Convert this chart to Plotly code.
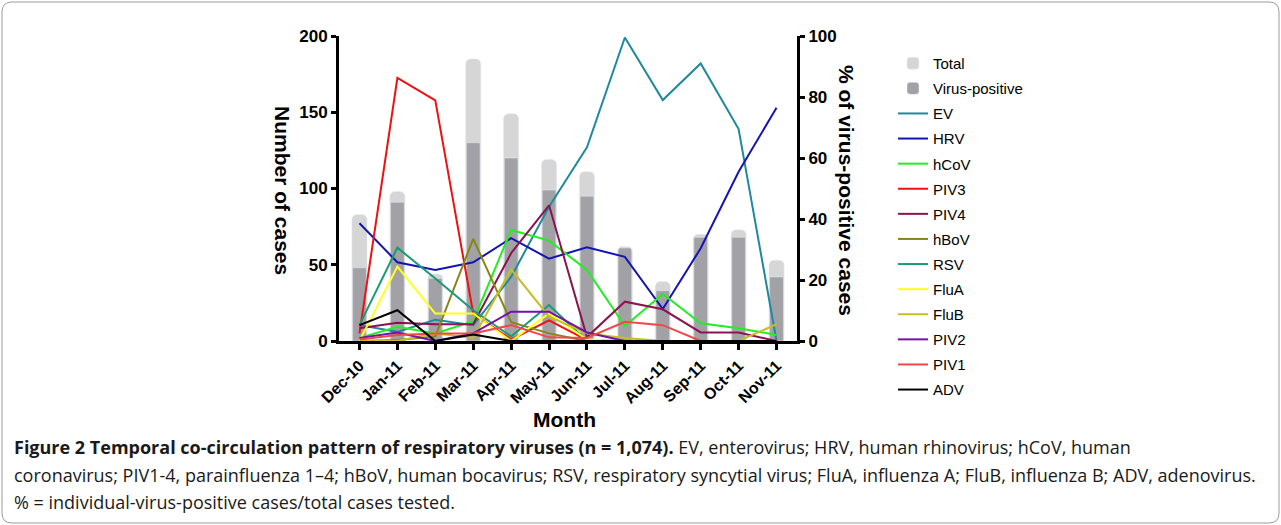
import plotly.graph_objects as go

months = ["Dec-10", "Jan-11", "Feb-11", "Mar-11", "Apr-11", "May-11",
          "Jun-11", "Jul-11", "Aug-11", "Sep-11", "Oct-11", "Nov-11"]

total = [83, 98, 44, 185, 149, 119, 111, 62, 39, 70, 73, 53]
virus_positive = [48, 91, 41, 130, 120, 99, 95, 61, 33, 68, 68, 42]

# % of virus-positive cases (right axis)
ev   = [5.2, 3.0, 7.0, 5.2, 21, 44, 63.5, 99.5, 79, 91, 69.5, 0]
hrv  = [38.6, 25.8, 23.3, 25.8, 33.7, 27, 30.7, 27.6, 10.5, 30.4, 55.5, 76.5]
hcov = [1, 4.7, 2.5, 6.5, 36.4, 32.9, 23.3, 4.9, 15.4, 5.8, 4.2, 2]
piv3 = [2.5, 86.3, 78.9, 9, 0.5, 6.8, 0.3, 0, 0, 0, 0, 0]
piv4 = [4.2, 6, 5.5, 5.5, 28.8, 44.5, 1.3, 12.9, 10.4, 2.8, 2.8, 0]
hbov = [0, 0.3, 1.5, 33.5, 6.2, 2.5, 0, 0, 0, 0, 0, 0]
rsv  = [5.2, 30.6, 20.5, 10.1, 1.5, 11.8, 0, 0, 0, 0, 0, 0]
flua = [0, 24.4, 9, 9, 0, 9, 0.5, 0, 0, 0, 0, 0]
flub = [0, 0, 2.5, 1, 23.5, 8, 2.5, 1, 0, 0, 0, 5.5]
piv2 = [1, 2.8, 0, 2.5, 9.6, 9.6, 2.8, 0, 0, 0, 0, 0]
piv1 = [0.5, 2, 2.5, 2.5, 5.2, 1.2, 1, 6.3, 5.2, 0, 0, 0]
adv  = [5.2, 10.1, 0, 2.1, 0, 0, 0, 0, 0, 0, 0, 0]

series = [
    ("EV", ev, "#1f8a9c"),
    ("HRV", hrv, "#1414b4"),
    ("hCoV", hcov, "#22ee22"),
    ("PIV3", piv3, "#ee1111"),
    ("PIV4", piv4, "#8b1450"),
    ("hBoV", hbov, "#868616"),
    ("RSV", rsv, "#189a76"),
    ("FluA", flua, "#ffff22"),
    ("FluB", flub, "#c6be22"),
    ("PIV2", piv2, "#7412aa"),
    ("PIV1", piv1, "#f04848"),
    ("ADV", adv, "#000000"),
]

W, H = 1281, 525
L, R, T, B = 339, 797, 36, 341  # plot area in pixels


def px(x):
    return (x - L) / (R - L)


def py(y):
    return (B - y) / (B - T)


fig = go.Figure()

fig.add_trace(go.Bar(x=months, y=total, name="Total", marker=dict(color="#d6d6d6", cornerradius=5),
                     width=0.4, legendgroup="a", yaxis="y"))
fig.add_trace(go.Bar(x=months, y=virus_positive, name="Virus-positive",
                     marker=dict(color="#a2a2a6", cornerradius=5),
                     width=0.36, legendgroup="b", yaxis="y"))

for i, (name, vals, col) in enumerate(series):
    fig.add_trace(go.Scatter(x=months, y=vals, name=name, mode="lines",
                             line=dict(color=col, width=2), yaxis="y2",
                             legendgroup="g%d" % i))

axis_font = dict(family="Liberation Sans, Arial", size=17, color="black", weight="bold")

fig.update_layout(
    width=W, height=H,
    margin=dict(l=L, r=W - R, t=T, b=H - B),
    plot_bgcolor="white", paper_bgcolor="white",
    barmode="overlay",
    showlegend=True,
    legend=dict(x=893 / W, y=1 - 47 / H, xref="container", yref="container",
                xanchor="left", yanchor="top",
                font=dict(family="Liberation Sans, Arial", size=15, color="black"),
                tracegroupgap=2.6, traceorder="grouped", bgcolor="rgba(0,0,0,0)",
                maxheight=460),
    xaxis=dict(type="category", range=[-0.54, 11.54], showline=True, linecolor="black",
               linewidth=3, ticks="outside", ticklen=6, tickwidth=3, tickcolor="black",
               tickangle=-45, tickfont=dict(family="Liberation Sans, Arial", size=16,
                                            color="black", weight="bold"),
               showgrid=False, zeroline=False),
    yaxis=dict(range=[0, 200], showline=True, linecolor="black", linewidth=3,
               ticks="outside", ticklen=5, tickwidth=3, tickcolor="black",
               tickvals=[0, 50, 100, 150, 200], tickfont=axis_font,
               showgrid=False, zeroline=False),
    yaxis2=dict(range=[0, 100], overlaying="y", side="right", anchor="x",
                showline=True, linecolor="black", linewidth=3,
                ticks="outside", ticklen=5, tickwidth=3, tickcolor="black",
                tickvals=[0, 20, 40, 60, 80, 100], tickfont=axis_font,
                showgrid=False, zeroline=False),
)

title_font = dict(family="Liberation Sans, Arial", size=21, color="black", weight="bold")
fig.add_annotation(text="Number of cases", x=px(282), y=py(190), xref="paper", yref="paper",
                   xanchor="center", yanchor="middle",
                   textangle=90, showarrow=False, font=title_font)
fig.add_annotation(text="% of virus-positive cases", x=px(846), y=py(190), xref="paper",
                   yref="paper", xanchor="center", yanchor="middle",
                   textangle=90, showarrow=False, font=title_font)
fig.add_annotation(text="Month", x=px(564), y=py(420), xref="paper", yref="paper",
                   xanchor="center", yanchor="middle",
                   showarrow=False, font=title_font)

cap_font = dict(family="Open Sans, Liberation Sans", size=18, color="#1a1a1a")
captions = [
    (447, "<b>Figure 2 Temporal co-circulation pattern of respiratory viruses (n = 1,074).</b> "
          "EV, enterovirus; HRV, human rhinovirus; hCoV, human"),
    (475, "coronavirus; PIV1-4, parainfluenza 1–4; hBoV, human bocavirus; RSV, respiratory "
          "syncytial virus; FluA, influenza A; FluB, influenza B; ADV, adenovirus."),
    (502, "% = individual-virus-positive cases/total cases tested."),
]
for yy, txt in captions:
    fig.add_annotation(text=txt, x=px(12), y=py(yy), xref="paper", yref="paper",
                       xanchor="left", yanchor="middle", showarrow=False, font=cap_font)

# rounded border around the figure
x0, x1, y0, y1, r = 2, 1279, 2, 523, 10
path = (f"M {px(x0 + r)},{py(y0)} L {px(x1 - r)},{py(y0)} Q {px(x1)},{py(y0)} {px(x1)},{py(y0 + r)} "
        f"L {px(x1)},{py(y1 - r)} Q {px(x1)},{py(y1)} {px(x1 - r)},{py(y1)} "
        f"L {px(x0 + r)},{py(y1)} Q {px(x0)},{py(y1)} {px(x0)},{py(y1 - r)} "
        f"L {px(x0)},{py(y0 + r)} Q {px(x0)},{py(y0)} {px(x0 + r)},{py(y0)} Z")
fig.add_shape(type="path", path=path, xref="paper", yref="paper",
              line=dict(color="#9a9a9a", width=1))

fig.write_html("out.html", config={"displayModeBar": False},
               post_script="document.body.style.margin='0';document.body.style.overflow='hidden';")
